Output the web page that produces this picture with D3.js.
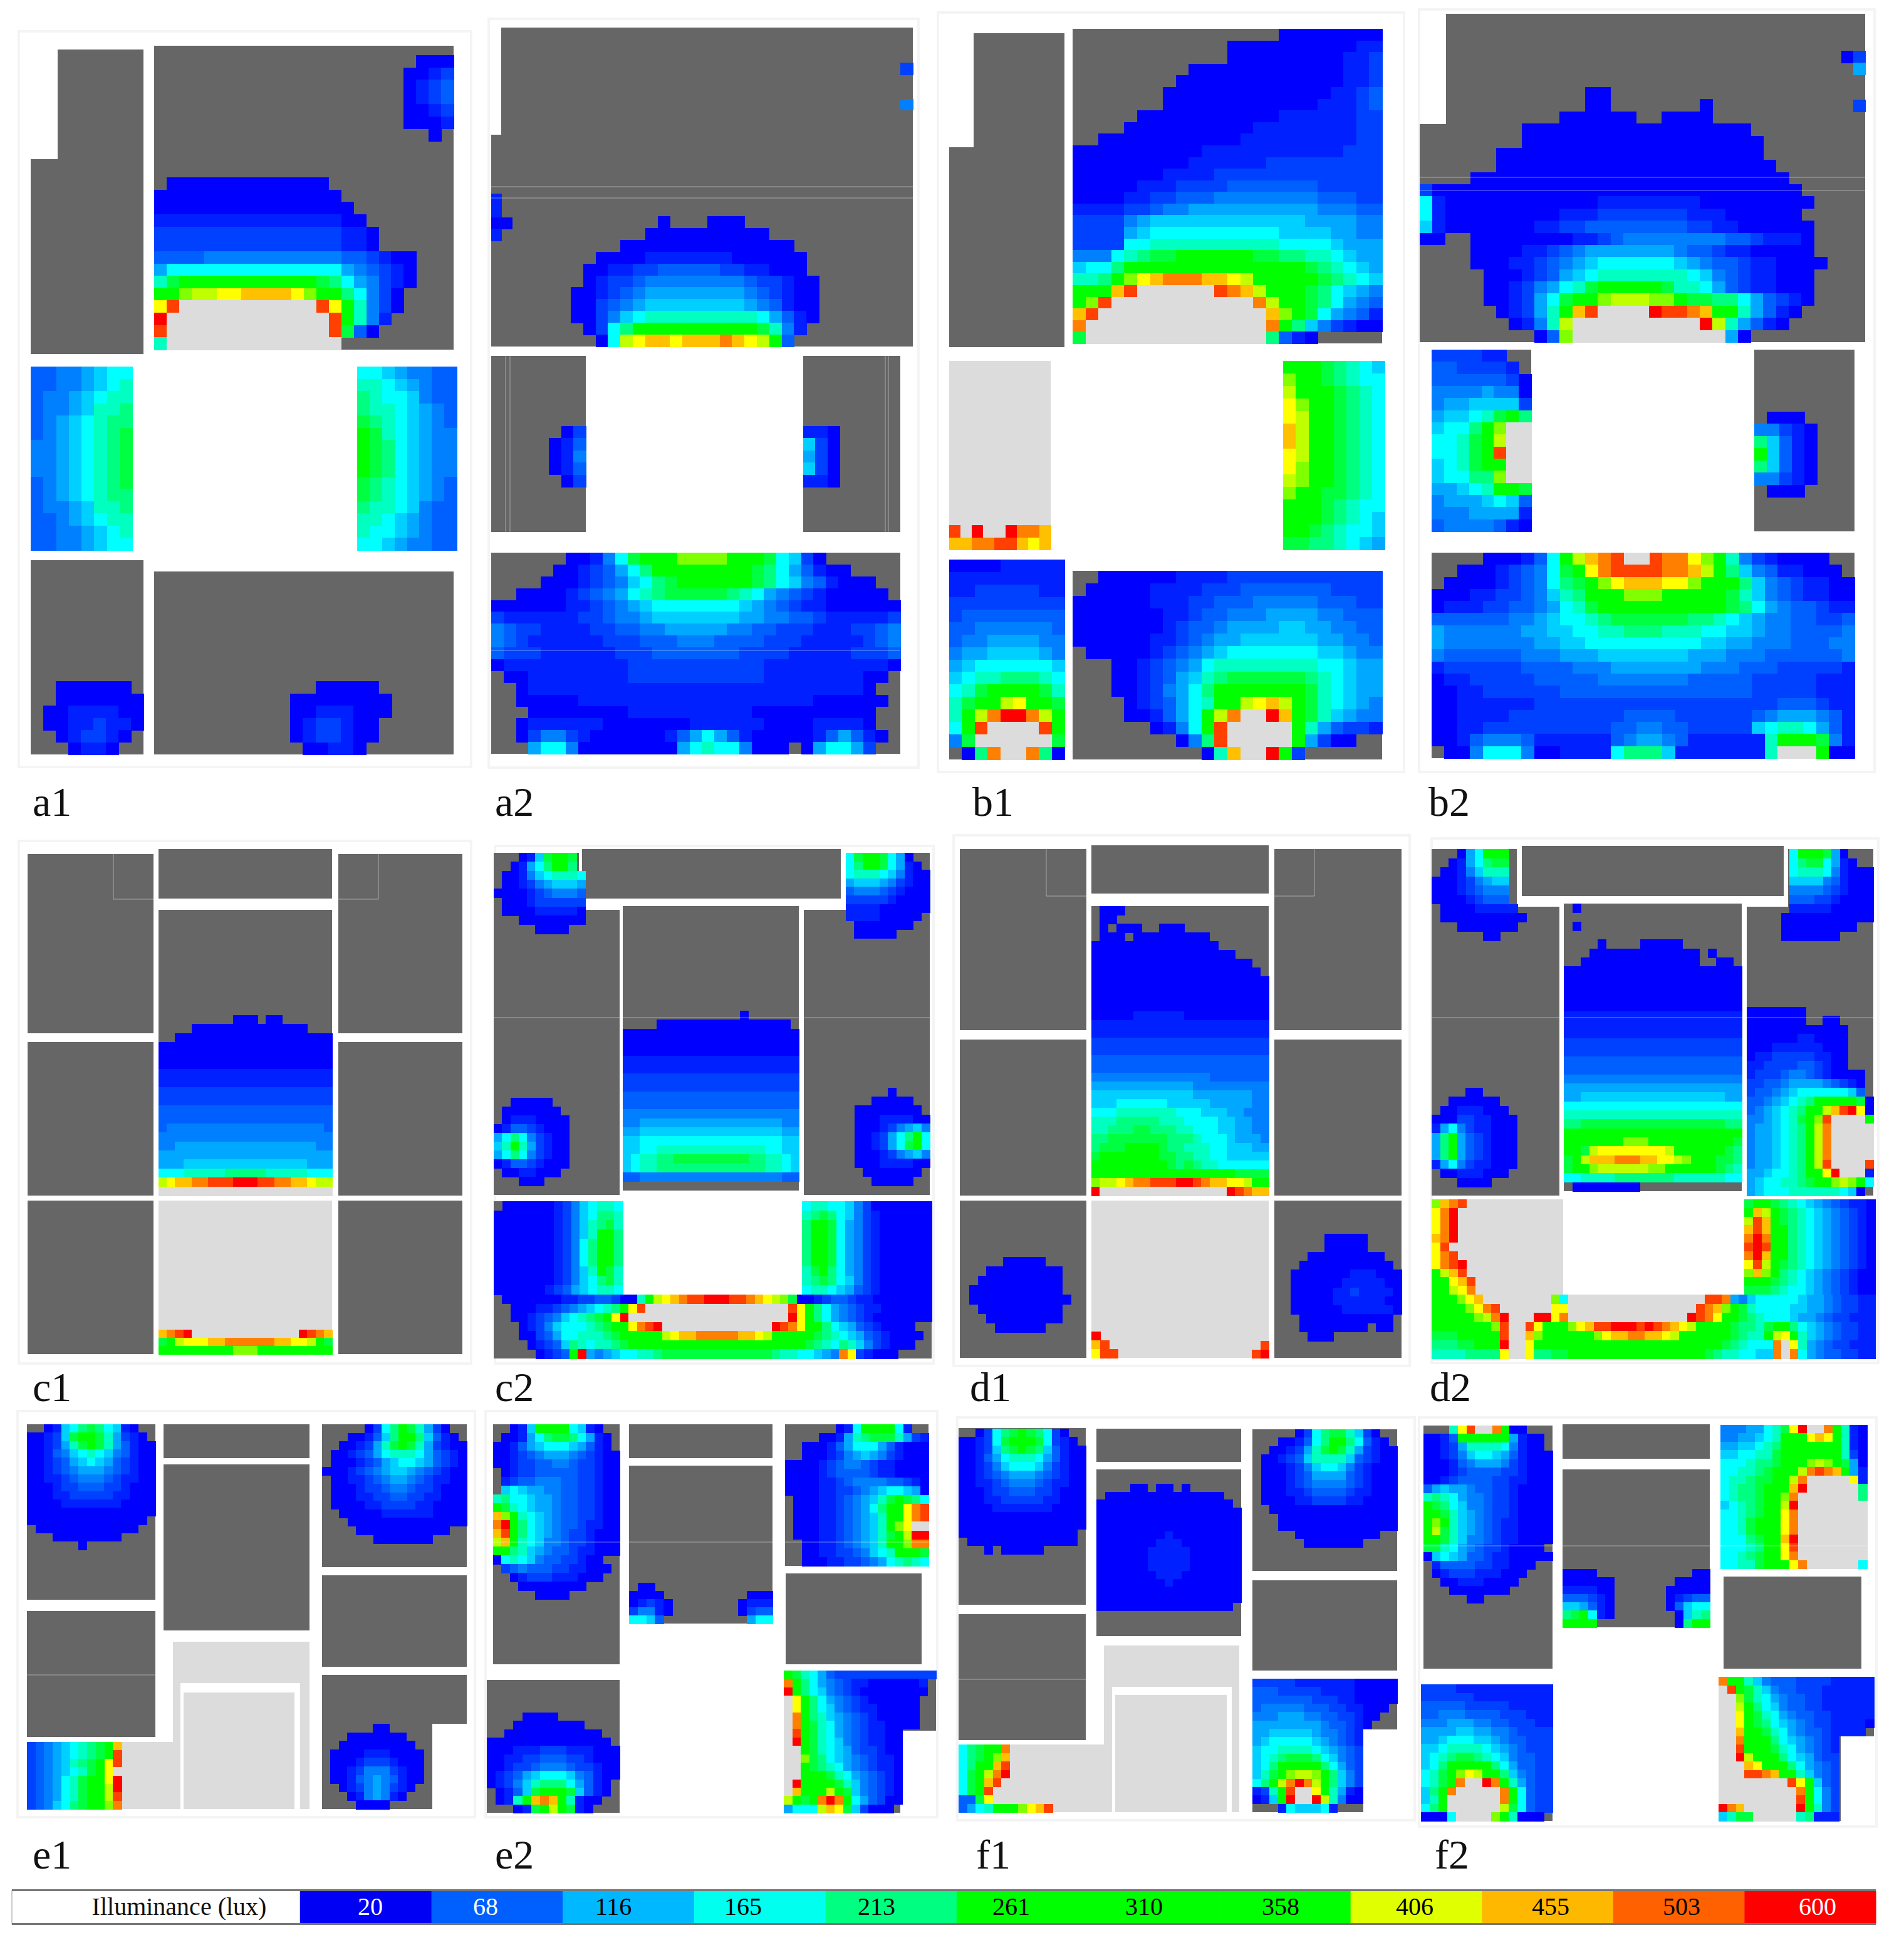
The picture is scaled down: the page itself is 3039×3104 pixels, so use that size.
<!DOCTYPE html>
<html>
<head>
<meta charset="utf-8">
<script src="https://cdn.jsdelivr.net/npm/d3@7"></script>
<style>
  html, body { margin: 0; background: #fff; }
  text { font-family: "Liberation Serif", serif; }
</style>
</head>
<body>
<svg id="chart"></svg>
<script>
// legend
const legendLux = [20, 68, 116, 165, 213, 261, 310, 358, 406, 455, 503, 600];
const legendColors = ["#0000f4", "#0060ff", "#00b8ff", "#00ffee", "#00ff80", "#00ff00", "#00ff00", "#00ff00", "#e0ff00", "#ffb800", "#ff6000", "#ff0000"];
const legendInk = ["#fff", "#fff", "#000", "#000", "#000", "#000", "#000", "#000", "#000", "#000", "#000", "#fff"];
const legendLabelX = [591, 775, 979, 1186, 1399, 1614, 1826, 2044, 2258, 2475, 2684, 2901];

// cell code -> colour; "#" = no cell (room colour shows), "_" = over-range light grey
const levelCodes = "0123456789abcdefghi_";
const levelColors = ["#0000ff", "#0020ff", "#0040ff", "#0060ff", "#0080ff", "#00a8ff", "#00d0ff", "#00ffff", "#00ffc0", "#00ff80", "#00ff40", "#00ff00", "#80ff00", "#c0ff00", "#ffff00", "#ffc000", "#ff8000", "#ff4000", "#ff0000", "#dcdcdc"];

const panelNames = ["a1", "a2", "b1", "b2", "c1", "c2", "d1", "d2", "e1", "e2", "f1", "f2"];

// ---- a1
const a1Hall = ["#0000000000000##########","000000000000000#########","0000000000000000########","11111111111111100#######","222222222222222110######","222222222222222110######","333344444444444332100###","577777777777777543210###","8abbbbbbbbbbba9754210###","bbcddeeffffecbb97420####","eh___________heb8420####","i_____________hb841#####","h_____________ha30######","8______________#########"];
const a1West = ["33445677","33445678","34456788","34456889","34567899","3456789a","4456789a","4456789a","4456789a","3456789a","34567899","34456889","33456788","33445678","33445677"];
const a1East = ["77654433","88765433","98776433","98876543","a9876543","ba876544","ba976544","ba976544","ba976544","a9876543","a9876543","98876433","88765433","87765433","77654433"];
const a1SouthL = ["##000000#","##0000000","#00111100","#00112110","##012210#","###0110##"];
const a1SouthR = ["##00000#","00000000","00111000","0122100#","0122100#","#00110##"];
const a1Corner = ["#000","0012","0123","0123","0012","0001","##0#"];

// ---- a2
const a2Hall = ["#######0###000######","######0000000000####","####00000000000000##","##00001111111000000#","#001122333332211000#","#0122344444444322100","00123455555555432100","00234566666666543100","00246788888888875310","#0279bbbbbbbbbba841#","##07deffefffgfedb3##"];
const a2Nub = ["1#","1#","00","1#"];
const a2Dot1 = ["2"];
const a2Dot2 = ["4"];
const a2West = ["#02","013","014","013","#02"];
const a2East = ["110","620","520","620","110"];
const a2South = [
"######00147abbbccccbbba7620######",
"#####00123579bbbbbbbba9753100####",
"####0001234679abbbbbba976431000##",
"##000012345789aaaaa9875432100000#",
"000000112345677777776543211000000",
"211111122344566666665544332111112",
"432211112233445555544332221112234",
"432111111222333444333322211111234",
"322211111122233333332222111112223",
"011111111112222222222211111111110",
"#0011111111222222222221111111100#",
"##01111111111111111111111111110##",
"##000001111111111111111111000000#",
"###0000000011111111110000000000##",
"##01111110000000111111000011110##",
"##024421000000135753100000135310#",
"###577400000000578774000#057752##"
];

// ---- b1
const b1Hall = [
"################00000000",
"############000000000011",
"############000000000112",
"#########000000000000112",
"########0000000000000112",
"#######00000000000001123",
"#######00000000000011123",
"#####0000000000011111122",
"####00000000001111111122",
"##0000000000011111111122",
"000000000011111111111222",
"000000000111111222222222",
"000000011112222222222222",
"000001112222333333322222",
"000011223334444444433322",
"111122344555555555544433",
"222245666666666666555544",
"222256777777777766665544",
"222277888888888877776555",
"444789aabbbbbbaa99887655",
"6779bbbbbbbbbbbbbba98765",
"889bcefgggffedbbbbba9876",
"bbbfh______hgfdbbba97654",
"bch___________gdbba97543",
"fh_____________fcba75431",
"g______________gb9642100",
"a______________9310#####"
];
const b1LeftSill = ["h_i__iggf","ffgghhfef"];
const b1East = ["bbba9876","cbba9877","dbbba987","ecbba987","edbba987","fdbba987","fdbba987","edbba987","ecbba987","dcbba987","cbbaa987","bbba9877","bbba9876","bba98776","aa998765"];
const b1SouthL = ["000011111","111111111","112222211","222222222","233333333","334444443","344555544","455666654","567777776","678899987","78abbbba8","8abbdebba","8bdgiigdb","7bh____hb","4a______a","#09g__g90"];
const b1SouthR = [
"##0000001111222222222222",
"#00000111122233333332222",
"000000111223334444433322",
"000000011233444555544333",
"000000012334555566554433",
"000000112345566666655443",
"#00000123456777777766544",
"###001234578888888877655",
"###001235689aaaaaa987655",
"###00124579bbbbbbba87655",
"####0123578bbdefdba87654",
"####001357bdg__ifba86544",
"######0147bh_____b853221",
"########049h_____b5200##",
"##########08f__ib2######"
];

// ---- b2
const b2Hall = [
"#############00####################",
"#############00#######0############",
"###########000000##0000############",
"########000000000000000000#########",
"########0000000000000000000########",
"######000000000000000000000########",
"######0000000000000000000000#######",
"####0000000000000000000000000######",
"200000000000000000000000000000#####",
"7100000000000011111111000000000####",
"710000000001112222222111000000#####",
"6100000001122333333332211000000####",
"00##000000001123444444443321110####",
"####000011234555555543321100000####",
"####0001123456777777654332110000###",
"#####00012356788888887643211000####",
"#####00124578abbbbba88753211000####",
"#####001257abbcdddccbaa99753210####",
"######01258bfh____ihhgfbb85310#####",
"#######0148d__________id85310######",
"#########03c____________50#########"
];
const b2NE = ["02","#5","##","##","#2"];
const b2West = ["222211##","3322221#","33333320","44445440","45566662","56678ab9","6779bc__","778abd__","778abh__","678abb__","67799c__","55678bba","45556763","44455551","34444310"];
const b2East = ["#000#","44210","96310","b6310","96310","44210","#000#"];
const b2South = [
"####000137bdfgh__hggecb84210000##",
"##00012347abeghhhhggfdb964311000#",
"#0000123479abcefffeecbbb964321100",
"000112234689bbbcccbbbbba864321100",
"011122334578abbbbbbbbbba975433211",
"33333344567789aaaaaa9987654433223",
"544444455667788999888776654433334",
"544444445566777777777665544433344",
"433333344455566666665554443333334",
"122222233334445555555444333222221",
"011222223333344444443333322222111",
"001122222233333333333333322222111",
"001111112222222222222222222333211",
"001111222222222333322222234555431",
"001122222222223344332222267887531",
"001344431111113455431111118bbba41",
"#00477740011117999611111118___b00"
];

// ---- c1
const c1Hall = [
"#########000#00######",
"####00000000000000###",
"##0000000000000000000",
"000000000000000000000",
"000000000000000000000",
"000000000000000000000",
"111111111111111111111",
"111111111111111111111",
"222222222222222222222",
"222222222222222222222",
"333333333333333333333",
"333333333333333333333",
"344444444444444444443",
"444444444444444444444",
"445555555555555555544",
"555555555555555555555",
"555666666666666666555",
"777888889999988888777",
"deffgghhhiiihhggffedd",
"_____________________"
];
const c1Porch = ["fghi_____________ihgf","abdeeeffggggggffeedba","bbbbbbbbbcccbbbbbbbbb"];

// ---- c2
const c2NW = ["###016abba#","##01579bb9#","#0014678887","#0012456665","00001234443","#0001222222","#0000111110","###00000000","#####0000##"];
const c2NE = ["7abba750##","79bba7510#","7888764100","5666542100","3444321000","2222210000","1111000000","111100000#","#0000000##","#00000####"];
const c2MidW = ["##00000##","#0000000#","#01110000","013321000","579742100","68b852100","579742100","013321000","#0011000#","###000###"];
const c2MidE = ["####0####","##00000##","00000000#","000111100","000124564","0012579b7","001257ab7","000124564","000111100","#0000000#","##00000##"];
const c2Hall = [
"##############0######",
"####0000000000000000#",
"000000000000000000000",
"000000000000000000000",
"000000000000000000000",
"111111111111111111111",
"111111111111111111111",
"222222222222222222222",
"222222222222222222222",
"333333333333333333333",
"333333333333333333333",
"444444444444444444444",
"445555555555555555544",
"556666666666666666655",
"667777777777777777766",
"667788888888888887766",
"678899aaaaaaaaa998876",
"678899999999999998876",
"334444444444444444433"
];
const c2SouthW = ["#00000012467887","000000012467998","0000000124689a8","000000012468bb9","000000012479bb9","000000012479bb9","000000012479bb9","000000012468ba8","0000000124679a8","000000123567887"];
const c2SouthE = ["788776420000000","89a976421000000","9bba75421000000","9bba75421000000","9bba75421000000","9bba75421000000","9bba75421000000","8ab975421000000","89a976421000000","788765321000000"];
const c2South = [
"#00000001122332008bdefghhiiihhgfedca0012332110000000",
"##0001123456789beh_________________heb97543211000000",
"##0012346789abei___________________ieb97543210000000",
"###0124677789abbeghi_____________ihgebb97653210000##",
"###00235778889abbbbbdeffgggggffedbbbbba987653210000#",
"####01236987889abbbbbbbbbbbbbbbbbbbbba987986421000##",
"#####0123bi545677889aaaaaaaaaaaaa98877654ge21000####"
];

// ---- d1
const d1Hall = [
"#000#################",
"#00##################",
"#0#000##000##########",
"#000#000000000#######",
"000000000000000######",
"00000000000000000####",
"0000000000000000000##",
"00000000000000000000#",
"000000000000000000000",
"000000000000000000000",
"000000000000000000000",
"000000000000000000000",
"000001111110000000000",
"111111111111111111111",
"111111111111111111111",
"222222222222222222222",
"222222222222222222222",
"333333333333333333333",
"333333333333333333333",
"444444444444443333333",
"555555555555444444444",
"666666666666555555544",
"666777777666665555544",
"777888888877766655444",
"888999998887777665544",
"88999aa99988777665544",
"99aaaaaaa999877765554",
"9aaabbbba998887766655",
"abbbbbbbaa99887766666",
"bbbbbbbbba9a988777777",
"bbbbbbbbbbbbbbbbbaaaa",
"cddefgghhhiihgffeedbb",
"i_______________ihgff"
];
const d1West = ["####00000###","##000000000#","#0000000000#","00000000000#","000000000000","#0000000000#","##000000000#","###000000###"];
const d1East = ["####00000####","####00000####","##000000000##","#00000000000#","0000000111000","0000001111100","0000011211110","0000011111100","0000001111110","#00000000000#","#00000000#00#","##000########"];
const d1LowL = ["i##","fh#","ehh"];
const d1LowR = ["#h","hi"];

// ---- d2
const d2NW = ["###057bbb##","##01579aa##","#00146888##","000124566##","000123444##","000012333##","#000011111#","#0000000000","###0000000#","######00###"];
const d2NE = ["#7bbba50###","#79aa7510##","#7888741000","#6666431000","#4444321000","#3332210000","#1111100000","00000000000","000000000##","0000000####"];
const d2MidW = ["####00####","##000000##","#00111000#","0002211000","1574211000","59b5321000","59b5321000","59b5321000","1574211000","#00111000#","###0000###"];
const d2Hall = [
"#0###################",
"#####################",
"#0###################",
"#####################",
"####0####00000#######",
"###0000000000000#0###",
"##00000000000000##00#",
"000000000000000000000",
"000000000000000000000",
"000000000000000000000",
"000000000000000000000",
"000000000000000000000",
"111111111111111111111",
"111111111111111111111",
"111111111111111111111",
"222222222222222222222",
"222222222222222222222",
"333333333333333333333",
"333333333333333333333",
"444444444444444444444",
"555555555555555555555",
"556666666666666666655",
"777777777777777777777",
"888888888888888888888",
"99aaaaaaaaaaaaaaaaa99",
"bbbbbbbbbbbbbbbbbbbbb",
"bbbbbbbcccbbbbbbbbbba",
"bbadeeeeeeeedbbbbbba9",
"abdfffgggffeedcbbbaa9",
"abbcddddddccbbbbbba98",
"778888999999988888877",
"#00000000############"
];
const d2East = [
"0000000########",
"0000000##00####",
"000000000000###",
"000000110000###",
"000111111000###",
"011222221100###",
"112222332100###",
"12223443210000#",
"22334555543210#",
"23345677777763#",
"33456789bbbbba0",
"3456789bbdfhie0",
"445678abch____b",
"4556789bdg_____",
"4556789bdg_____",
"4556789bdg_____",
"4556789bdg_____",
"4556789bdh____h",
"5567789bbei___1",
"5677889abbcdcb7",
"56777888888760#"
];
const d2SouthW = ["cfgh___________","egi____________","egi____________","egi____________","fgi____________","eh_____________","egh____________","eghi___________","bdfh___________","bbefh__________","bbdeg__________"];
const d2SouthE = ["abba98765432110","bfdba9876543210","dhfba9876543210","fhfbb9876543210","gigbb9876543210","hihbb9876543210","gifbb9876543210","ehdba9876543210","cfcb98765432100","bbba98765432100","aaa987765432100"];
const d2South = [
"bbbcef" + "________" + "c7" + "________________" + "hhg54" + "677777655432211",
"bbbbcegh" + "______" + "ee" + "_______________" + "hgfcba877776655432211",
"bbbbbcdgi___iieg" + "______________" + "ihgebba987776554322111",
"bbbbbbbch__hebbbcefhhiiihihgfed" + "bbbba998abb9765432211",
"aaabbbbbh__fc" + "bbbbbb" + "ce" + "ffggff" + "ed" + "bbbbbb" + "a988bdeb865432211",
"999aabbbi__eb" + "bbbbbbbbbb" + "bbbbbbbbbb" + "b" + "a98777g_e854322111",
"88889999e__e9" + "9aa" + "bbbbbbbb" + "bbbbbbbb" + "a9887766g_g754332211"
];

// ---- e1
const e1NW = ["##01679a97610##","00126abba85210#","001258aba853100","001346787643100","001235676532100","001234555432100","001123444321100","000122333221000","000112222211000","000011111110000","000000000000000","00000000000000#","#000000000000##","###00000000####","######0########"];
const e1NE = ["#####0279ba8520##","###001369bb96310#","##001258aba852100","#0012357888753210","#0001235677653210","00012345665432100","#0011234554321100","#0001223443221000","#0001122332211000","#0000112222110000","##000001111110000","###00000000000000","####00000000000##","######0000000####"];
const e1Low = ["23456789abf","23456789abh","2345689abeh","2345678abe_","234578abbei","234578abbdi","234578abbdh","234679abbcg"];
const e1SE = ["#####00####","##0000000##","#000000000#","00001110000","00012221000","00124442100","00134543100","#012454210#","##0145410##","###0000####"];

// ---- e2
const e2NW = [
"##016bbbb7610##",
"#001579aa97510#",
"00135677765310#",
"001234555432100",
"001223344322100",
"#01223333322100",
"#12334443322100",
"#67655443322100",
"897765543322100",
"ba8765543322100",
"fcb876543322100",
"gib976543321100",
"fhb976543221000",
"dfb876443221000",
"bb9865433211000",
"0787643322100##",
"#2343332211000#",
"##01222111000##",
"###00000000####",
"#####0000######"
];
const e2SW = ["####0000#######","###00000000####","##00000000000##","00000000000000#","000111222111000","001122333221000","001223444322100","012356777643100","01246899975310#","#0136abbba6310#","#018bfgfb8100##","###01abdba10###"];
const e2MidL = ["#00##","0000#","01210","24410","7763#"];
const e2MidR = ["#000","0111","0233","#577"];
const e2NE = [
"######017bbbb71##",
"####001589aaa8521",
"##000135777531000",
"##000124565421000",
"00001234432110000",
"00001233332110000",
"00001123444433210",
"00001122345677650",
"#00011234568aba97",
"#00011234579bbegh",
"#00011234568bbegh",
"#00011234568bce__",
"#00011234568abdii",
"##0011234568bbcgg",
"##00112234678bbba",
"##000112234578987"
];
const e2SE = [
"ba8753222222222222",
"gb975432110000001#",
"ib976432100000000#",
"_eb9754321000000##",
"_eb9764321100000##",
"_gb9865432100000##",
"_gba875432110000##",
"_hba8754321100####",
"_iba8764321100####",
"__ba8765322100####",
"__ca9765432110####",
"__ba9875432110####",
"__bbba87543210####",
"_ibbbba8643210####",
"_fbbbdba643210####",
"dbabgigb753200####",
"5777dfea62000#####"
];

// ---- f1
const f1NW = ["##0279aba9720##","00127abbba7210#","001269aba963100","001357888753100","001246777642100","001234555432100","001123444321100","000122333221000","000112222211000","000011111110000","000000000000000","000000000000000","00000000000000#","#0000000000000#","###0#00000#####"];
const f1Mid = ["####00#00#0######","#00000000000000##","0000000000000000#","00000000000000000","00000000000000000","00000000000000000","00000000100000000","00000001110000000","00000011111000000","00000011111000000","00000011111000000","00000001110000000","00000000100000000","00000000000000000","00000000000000000","0000000000000000#"];
const f1NE = ["#####0279aa8620##","###001379bb97310#","##001258aba852100","#0012368888632100","#0001246776421000","#0001235555321000","#0001234444321000","#0001123333211000","#0000112222110000","##000000000000000","###00000000000000","###00000000000000","#####0000000000##","######0000000####"];
const f1Low = ["79abbg_____","79abcf_____","79bbfh_____","7abdgi_____","7abfh______","7abh_______","33ae_______","3578bbbcefh"];
const f1SE = [
"22222111111100000",
"33322222111100000",
"33333332221100000",
"3444443332211000#",
"444555443322100##",
"55555555433210###",
"5566666544321####",
"5677777654321####",
"6778888765432####",
"6789aaa976432####",
"679bbbbb97532####",
"68abcddcb9642####",
"79bdgigdb9642####",
"128bh__eb8510####",
"016bi__id8400####",
"###1766671#######"
];

// ---- f2
const f2NW = [
"###8eh__gb00###",
"0013bbbbbb5100#",
"00125888874100#",
"001246776531000",
"000134555421000",
"000123333221000",
"001233332211000",
"356554332210000",
"898754432210000",
"ba9764432210000",
"bba865432210000",
"bcb865432110000",
"bda865432110000",
"bba864432110000",
"aa875432210000#",
"067653321100000",
"#133332211000##",
"#01222111000###",
"##001110000####",
"###0000000#####",
"#####00########"
];
const f2SW = [
"222211111111111",
"222222111111111",
"333332222211111",
"334443333222111",
"444555443322211",
"555566554432222",
"556777665433222",
"667888876543222",
"6789aa987643322",
"679bbbbb9753322",
"78abcedbb964322",
"78abg__igb85322",
"69bg_____gb7322",
"68b______gb7322",
"79b______da7322",
"0007____cb8000#"
];
const f2MidL = ["0000##","000000","111100","333210","665310","9ab710","bbbb##"];
const f2MidR = ["###00","#0000","00000","01233","03677","#0689","#09bb"];
const f2NE = [
"4445578aei__gb810",
"4455678bbbefeb810",
"5566789bbbbbbb810",
"667788abbbbbbb820",
"777899abbbcdcba50",
"77889abbbdghgfb51",
"7889aabbdg_____e1",
"7899abbbfi______9",
"7899abbcg_______9",
"6789abbdi________",
"7789abbeg________",
"778abbbeg________",
"778abbbeg________",
"7779abbfi________",
"77789bbeh________",
"7789abbeg________",
"7788abbbeg______7"
];
const f2SE = [
"gbb864333222211111",
"_hba86433222111111",
"__ca87543322111111",
"__db97643322111111",
"__eba8754332211111",
"__eba9765432211110",
"__fbba87543321111#",
"__gbbb97654321####",
"__hbbba8754321####",
"__idbbb9765322####",
"___febbb975432####",
"___hhgfbb86432####",
"________heb632####",
"_________gb742####",
"_________hb742####",
"igf______ib842####",
"68aa_____89111####"
];

// rooms: x0, y0, x1, y1, kind (g = dark unlit, l = light grey, w = white wall)
const panelRooms = {
  a1: [[92,79,229,565,"g"],[49,254,92,565,"g"],[246,73,724,558,"g"],[49,894,229,1204,"g"],[246,912,724,1204,"g"]],
  a2: [[800,44,1457,553,"g"],[784,215,800,553,"g"],[784,568,935,849,"g"],[1282,568,1437,849,"g"],[784,882,1437,1203,"g"]],
  b1: [[1554,53,1699,554,"g"],[1515,235,1554,554,"g"],[1712,46,2206,548,"g"],[1515,576,1677,877,"l"],[1712,911,2206,1212,"g"],[1515,893,1699,1212,"g"]],
  b2: [[2308,22,2977,546,"g"],[2266,198,2308,546,"g"],[2285,558,2444,848,"g"],[2800,558,2960,848,"g"],[2285,882,2960,1210,"g"]],
  c1: [[44,1363,245,1649,"g"],[44,1663,245,1908,"g"],[44,1916,245,2161,"g"],[253,1355,530,1434,"g"],[253,1452,530,1908,"g"],[253,1916,530,2161,"l"],[540,1363,738,1649,"g"],[540,1663,738,1908,"g"],[540,1916,738,2161,"g"]],
  c2: [[929,1355,1342,1434,"g"],[788,1361,924,1452,"g"],[788,1452,989,1907,"g"],[994,1446,1275,1900,"g"],[1350,1361,1484,1452,"g"],[1283,1452,1484,1907,"g"],[788,1917,994,2168,"g"],[994,2066,1280,2168,"g"],[1280,1917,1487,2168,"g"]],
  d1: [[1532,1355,1734,1644,"g"],[1532,1659,1734,1908,"g"],[1532,1916,1734,2167,"g"],[1742,1349,2025,1426,"g"],[1742,1446,2025,1908,"g"],[1742,1916,2025,2167,"l"],[2034,1355,2237,1644,"g"],[2034,1659,2237,1908,"g"],[2034,1916,2237,2167,"g"]],
  d2: [[2429,1350,2847,1430,"g"],[2285,1355,2421,1447,"g"],[2285,1447,2489,1908,"g"],[2496,1442,2780,1901,"g"],[2854,1355,2990,1447,"g"],[2788,1447,2990,1908,"g"],[2285,1914,2494,2168,"l"],[2494,2066,2784,2168,"l"]],
  e1: [[43,2273,248,2553,"g"],[43,2571,248,2772,"g"],[261,2273,494,2327,"g"],[261,2337,494,2602,"g"],[43,2780,276,2887,"l"],[276,2620,494,2887,"l"],[288,2686,479,2887,"w"],[293,2701,470,2887,"l"],[514,2273,745,2501,"g"],[514,2514,745,2660,"g"],[514,2673,745,2751,"g"],[514,2751,690,2887,"g"]],
  e2: [[787,2273,989,2656,"g"],[777,2681,989,2893,"g"],[1004,2273,1233,2327,"g"],[1004,2339,1233,2591,"g"],[1253,2273,1482,2499,"g"],[1254,2511,1471,2656,"g"],[1251,2666,1494,2762,"g"],[1251,2762,1437,2893,"g"]],
  f1: [[1530,2279,1733,2561,"g"],[1530,2576,1733,2777,"g"],[1750,2280,1981,2333,"g"],[1750,2345,1981,2611,"g"],[1530,2784,1762,2892,"l"],[1762,2626,1978,2892,"l"],[1775,2692,1966,2892,"w"],[1780,2705,1958,2892,"l"],[1999,2281,2230,2507,"g"],[1999,2522,2230,2666,"g"],[1999,2679,2230,2760,"g"],[1999,2760,2176,2892,"g"]],
  f2: [[2272,2275,2478,2663,"g"],[2268,2688,2478,2906,"g"],[2494,2273,2729,2328,"g"],[2494,2345,2729,2597,"g"],[2751,2516,2971,2663,"g"],[2743,2676,2991,2771,"g"],[2743,2771,2938,2906,"g"]]
};

// where each grid of cells sits: rows, x0, y0, x1, y1
const panelGrids = {
  a1: [[a1Hall,246,283,724,558],[a1West,49,585,211,878],[a1East,570,585,729,878],[a1SouthL,49,1087,229,1204],[a1SouthR,463,1087,625,1204],[a1Corner,644,88,724,225]],
  a2: [[a2Hall,911,345,1307,553],[a2Nub,784,309,817,384],[a2Dot1,1437,100,1457,119],[a2Dot2,1437,158,1457,175],[a2West,876,680,935,777],[a2East,1282,680,1340,777],[a2South,784,882,1437,1203]],
  b1: [[b1Hall,1712,46,2206,548],[b1LeftSill,1515,838,1677,877],[b1East,2048,576,2210,877],[b1SouthL,1515,893,1699,1212],[b1SouthR,1712,911,2206,1212]],
  b2: [[b2Hall,2266,139,2977,546],[b2NE,2939,81,2977,178],[b2West,2285,558,2444,848],[b2East,2800,657,2900,793],[b2South,2285,882,2960,1210]],
  c1: [[c1Hall,253,1620,530,1908],[c1Porch,253,2122,530,2161]],
  c2: [[c2NW,788,1361,934,1490],[c2NE,1350,1361,1484,1497],[c2MidW,788,1752,908,1892],[c2MidE,1364,1736,1484,1892],[c2Hall,994,1613,1275,1885],[c2SouthW,788,1917,994,2066],[c2SouthE,1280,1917,1487,2066],[c2South,788,2066,1487,2168]],
  d1: [[d1Hall,1742,1446,2025,1908],[d1West,1547,2006,1709,2126],[d1East,2060,1969,2237,2140],[d1LowL,1742,2125,1784,2167],[d1LowR,1998,2140,2025,2167]],
  d2: [[d2NW,2285,1355,2436,1501],[d2NE,2843,1355,2990,1501],[d2MidW,2285,1736,2421,1894],[d2Hall,2496,1442,2780,1901],[d2East,2788,1607,2990,1908],[d2SouthW,2285,1914,2494,2066],[d2SouthE,2784,1914,2993,2066],[d2South,2285,2066,2993,2168]],
  e1: [[e1NW,43,2273,248,2473],[e1NE,514,2273,745,2463],[e1Low,43,2780,194,2887],[e1SE,527,2751,676,2887]],
  e2: [[e2NW,787,2273,989,2552],[e2SW,777,2733,989,2893],[e2MidL,1004,2526,1073,2591],[e2MidR,1178,2539,1233,2591],[e2NE,1253,2273,1482,2499],[e2SE,1251,2666,1494,2893]],
  f1: [[f1NW,1530,2280,1733,2480],[f1Mid,1750,2368,1981,2570],[f1NE,1999,2281,2230,2469],[f1Low,1530,2784,1680,2892],[f1SE,1999,2679,2230,2892]],
  f2: [[f2NW,2272,2275,2478,2558],[f2SW,2268,2688,2478,2906],[f2MidL,2494,2504,2576,2597],[f2MidR,2659,2504,2729,2597],[f2NE,2746,2274,2980,2503],[f2SE,2743,2676,2991,2906]]
};

// faint plan outlines behind the rooms
const panelOutlines = {
  a1: [30,50,752,1224], a2: [780,30,1466,1225], b1: [1497,20,2241,1232], b2: [2265,15,2992,1232],
  c1: [30,1342,752,2176], c2: [790,1350,1490,2176], d1: [1522,1333,2250,2180], d2: [2285,1338,2998,2175],
  e1: [28,2252,758,2900], e2: [775,2252,1496,2900], f1: [1528,2262,2258,2905], f2: [2265,2262,2995,2915]
};
// thin plan lines showing through the result
const planLines = [[784,298,1457,298],[784,316,1457,316],[807,568,807,849],[814,568,814,849],[1413,568,1413,849],[1418,568,1418,849],[784,1038,1437,1038],[2266,283,2977,283],[2266,304,2977,304],[788,1624,1484,1624],[2285,1624,2990,1624],[181,1363,181,1435],[181,1435,253,1435],[530,1435,604,1435],[604,1363,604,1435],[1670,1355,1670,1430],[1670,1430,1742,1430],[2025,1430,2098,1430],[2098,1355,2098,1430],[43,2673,248,2673],[787,2461,1482,2461],[1530,2680,1733,2680],[2272,2467,2980,2467]];

// label positions
const labelX = [52, 790, 1552, 2280, 52, 790, 1548, 2282, 52, 790, 1558, 2290];
const labelY = [1302, 1302, 1302, 1302, 2236, 2236, 2236, 2236, 2982, 2982, 2982, 2982];

const width = 3039, height = 3104;
const svg = d3.select("#chart").attr("width", width).attr("height", height).style("display", "block");
svg.append("rect").attr("width", width).attr("height", height).attr("fill", "#fff");

const roomFill = { g: "#666666", l: "#dcdcdc", w: "#ffffff" };
const levelColor = d3.scaleOrdinal().domain(levelCodes.split("")).range(levelColors);

panelNames.forEach((name, i) => {
  const g = svg.append("g").attr("class", "panel").attr("id", name);

  const o = panelOutlines[name];
  g.append("rect")
    .attr("x", o[0]).attr("y", o[1])
    .attr("width", o[2] - o[0]).attr("height", o[3] - o[1])
    .attr("fill", "none").attr("stroke", "#f4f4f4").attr("stroke-width", 4);

  g.selectAll("rect.room").data(panelRooms[name]).enter().append("rect")
    .attr("class", "room")
    .attr("x", d => d[0]).attr("y", d => d[1])
    .attr("width", d => d[2] - d[0]).attr("height", d => d[3] - d[1])
    .attr("fill", d => roomFill[d[4]]);

  // heat cells
  panelGrids[name].forEach(([rows, x0, y0, x1, y1]) => {
    const cols = d3.max(rows, r => r.length);
    const xScale = d3.scaleBand().domain(d3.range(cols)).range([x0, x1]);
    const yScale = d3.scaleBand().domain(d3.range(rows.length)).range([y0, y1]);
    const cells = [];
    rows.forEach((row, r) => {
      row.split("").forEach((code, c) => {
        if (levelCodes.includes(code)) cells.push({ r, c, code });
      });
    });
    g.append("g").attr("shape-rendering", "crispEdges")
      .selectAll("rect").data(cells).enter().append("rect")
      .attr("x", d => xScale(d.c)).attr("y", d => yScale(d.r))
      .attr("width", xScale.bandwidth() + 0.5).attr("height", yScale.bandwidth() + 0.5)
      .attr("fill", d => levelColor(d.code));
  });

  g.append("text")
    .attr("x", labelX[i]).attr("y", labelY[i])
    .attr("font-size", 66).attr("fill", "#111")
    .text(name);
});

svg.append("g").selectAll("line").data(planLines).enter().append("line")
  .attr("x1", d => d[0]).attr("y1", d => d[1]).attr("x2", d => d[2]).attr("y2", d => d[3])
  .attr("stroke", "rgba(255,255,255,0.22)").attr("stroke-width", 2);

// legend bar
const legendX = d3.scaleBand().domain(legendLux).range([479, 2994]);
const legend = svg.append("g").attr("class", "legend");
legend.append("rect")
  .attr("x", 19).attr("y", 3017).attr("width", 460).attr("height", 53)
  .attr("fill", "#fff").attr("stroke", "#999").attr("stroke-width", 1);
legend.selectAll("rect.band").data(legendLux).enter().append("rect")
  .attr("class", "band")
  .attr("x", d => legendX(d)).attr("y", 3017)
  .attr("width", legendX.bandwidth() + 0.5).attr("height", 53)
  .attr("fill", (d, i) => legendColors[i]);
legend.append("rect").attr("x", 19).attr("y", 3015).attr("width", 2975).attr("height", 3).attr("fill", "#777");
legend.append("rect").attr("x", 19).attr("y", 3069).attr("width", 2975).attr("height", 3).attr("fill", "#777");
legend.append("text")
  .attr("x", 286).attr("y", 3056).attr("text-anchor", "middle")
  .attr("font-size", 40).attr("fill", "#111")
  .text("Illuminance (lux)");
legend.selectAll("text.tick").data(legendLux).enter().append("text")
  .attr("class", "tick")
  .attr("x", (d, i) => legendLabelX[i]).attr("y", 3056)
  .attr("text-anchor", "middle").attr("font-size", 40)
  .attr("fill", (d, i) => legendInk[i])
  .text(d => d);
</script>
</body>
</html>
